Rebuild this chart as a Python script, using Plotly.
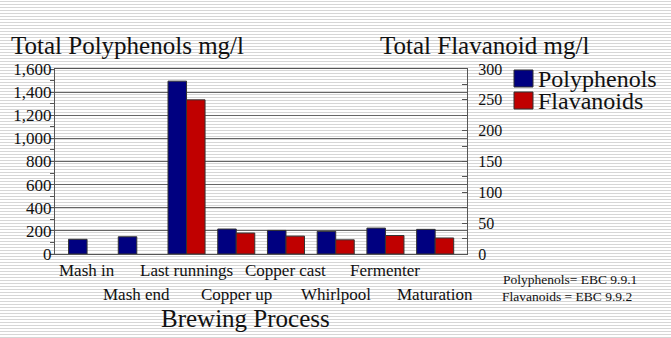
import plotly.graph_objects as go

categories = ["Mash in", "Mash end", "Last runnings", "Copper up", "Copper cast",
              "Whirlpool", "Fermenter", "Maturation"]
polyphenols = [127, 149, 1495, 216, 204, 196, 224, 213]
flavanoids = [None, None, 250, 34, 29, 23, 30, 26]
series_names = ["Polyphenols", "Flavanoids"]
series_colors = ["#000080", "#C00000"]
left_ticks = [0, 200, 400, 600, 800, 1000, 1200, 1400, 1600]
right_ticks = [0, 50, 100, 150, 200, 250, 300]
notes = ["Polyphenols= EBC 9.9.1", "Flavanoids = EBC 9.9.2"]

W, H = 671, 338
L, R, T, B = 55, 467, 69, 254
FONT = "'Liberation Serif', 'Times New Roman', 'DejaVu Serif', serif"
AX = "#555555"

def py(p):
    return (B - p) / (B - T)

def px(p):
    return (p - L) / (R - L)

fig = go.Figure()
fig.add_trace(go.Bar(x=list(range(len(categories))), y=polyphenols, name=series_names[0],
                     marker=dict(color=series_colors[0], line=dict(color="#333333", width=1)),
                     yaxis="y", offsetgroup=0, showlegend=False))
fig.add_trace(go.Bar(x=list(range(len(categories))), y=flavanoids, name=series_names[1],
                     marker=dict(color=series_colors[1], line=dict(color="#333333", width=1)),
                     yaxis="y2", offsetgroup=1, showlegend=False))

shapes = []
# striped background
p = 1.5
while p < H:
    shapes.append(dict(type="line", xref="paper", yref="paper", x0=px(-2), x1=px(W + 2),
                       y0=py(p), y1=py(p), line=dict(color="#d6d6d6", width=1), layer="below"))
    p += 3

annotations = []

def note(x, y, text, size, xanchor="left", xref="paper"):
    annotations.append(dict(x=x, xref=xref, y=py(y), yref="paper", text=text, showarrow=False,
                            xanchor=xanchor, yanchor="middle", borderpad=0,
                            font=dict(family=FONT, size=size, color="#111111")))

# staggered category labels
for i, c in enumerate(categories):
    note(i, 270 if i % 2 == 0 else 294, c, 17, xanchor="center", xref="x")
note(px(245), 318, "Brewing Process", 25, xanchor="center")
note(px(10), 45, "Total Polyphenols mg/l", 25)
note(px(379), 45, "Total Flavanoid mg/l", 25)
# legend
for k, (nm, col) in enumerate(zip(series_names, series_colors)):
    y0 = 70 + k * 22
    shapes.append(dict(type="rect", xref="paper", yref="paper", x0=px(514), x1=px(533),
                       y0=py(y0), y1=py(y0 + 17), fillcolor=col, line=dict(color="#333333", width=1)))
    note(px(537), y0 + 9, nm, 24)
for k, t in enumerate(notes):
    note(px(502 - k), 279 + k * 17, t, 13.5)

fig.update_layout(
    width=W, height=H, autosize=False,
    margin=dict(l=L, r=W - R, t=T, b=H - B, pad=0),
    paper_bgcolor="white", plot_bgcolor="rgba(0,0,0,0)",
    barmode="group", bargap=0.255, bargroupgap=0,
    shapes=shapes, annotations=annotations, showlegend=False,
    xaxis=dict(range=[-0.645, 7.64], showticklabels=False, ticks="", showgrid=False,
               showline=True, linecolor=AX, linewidth=1, mirror=True, zeroline=False),
    yaxis=dict(range=[0, 1600], tickvals=left_ticks, tickformat=",d", ticks="outside", ticklen=4,
               tickcolor=AX, showgrid=True, gridcolor="#666666", gridwidth=1,
               showline=True, linecolor=AX, zeroline=False, ticklabelstandoff=-5,
               minor=dict(dtick=100, ticks="outside", ticklen=4, tickcolor=AX, showgrid=False),
               tickfont=dict(family=FONT, size=17, color="#111111")),
    yaxis2=dict(range=[0, 300], tickvals=right_ticks, overlaying="y", side="right", ticks="inside",
                ticklen=5, tickcolor=AX, showgrid=False, showline=True, linecolor=AX, zeroline=False,
                minor=dict(dtick=25, ticks="inside", ticklen=5, tickcolor=AX),
                ticklabelstandoff=7,
                tickfont=dict(family=FONT, size=16, color="#111111")),
)

fig.write_html("out.html")
